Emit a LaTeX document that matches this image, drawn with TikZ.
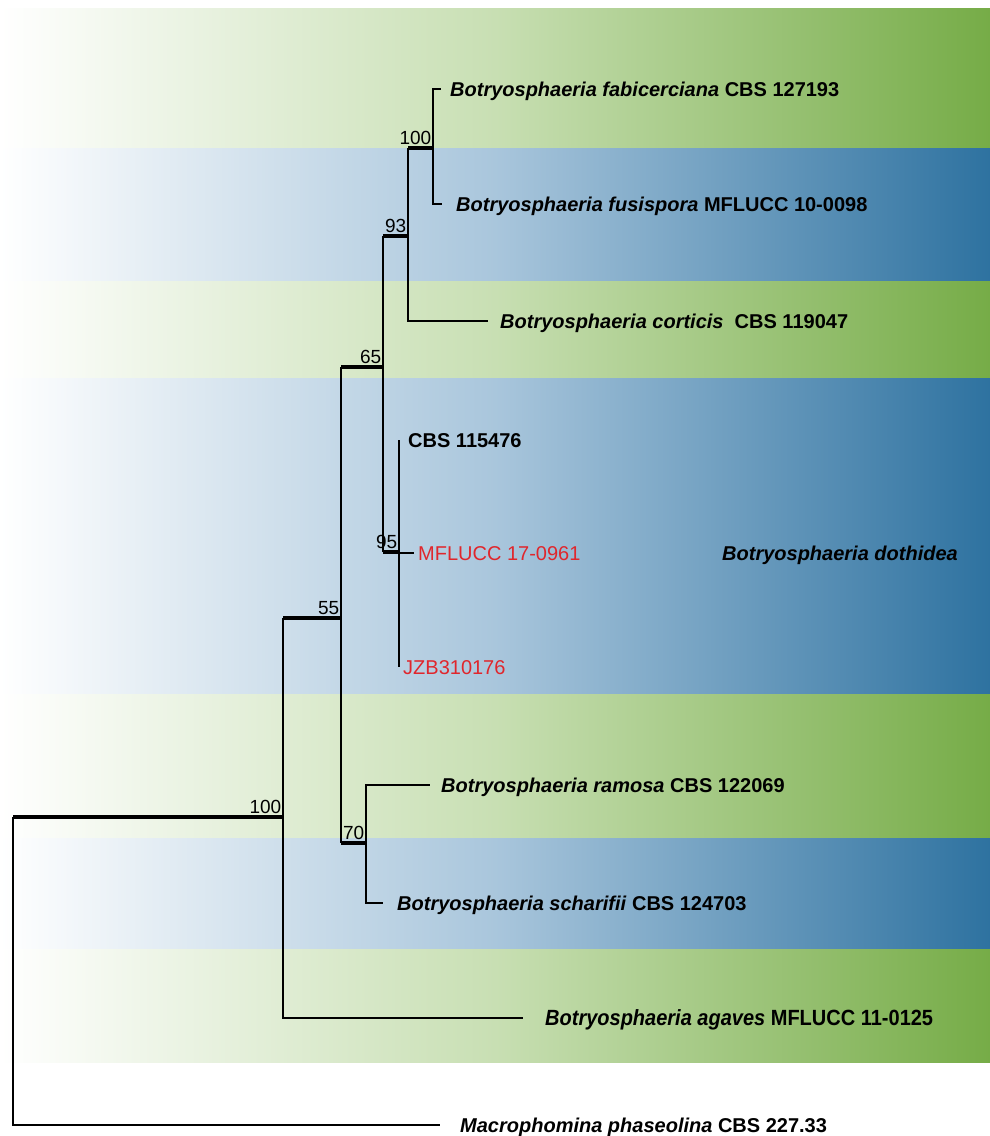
\documentclass[tikz,border=0pt]{standalone}
\usepackage{fontspec}
\setmainfont{Liberation Sans}
\usepackage{graphicx}
\usetikzlibrary{calc,positioning}

\definecolor{gmid}{HTML}{C8DFB3}
\definecolor{gdark}{HTML}{76AC47}
\definecolor{bmid}{HTML}{A9C6DC}
\definecolor{bdark}{HTML}{2E72A0}
\definecolor{tipred}{HTML}{E0262C}

\begin{document}
\begin{tikzpicture}[x=1pt, y=-1pt,
  gband/.style={left color=white, right color=gdark, middle color=gmid},
  bband/.style={left color=white, right color=bdark, middle color=bmid},
  br/.style={line width=1.4pt},
  thickbr/.style={line width=4.5pt},
  leaf/.style={anchor=west, inner xsep=#1, inner ysep=0pt, text height=14pt, text depth=0pt, font=\fontsize{20}{24}\selectfont\bfseries},
  leaf/.default=10pt,
  redleaf/.style={leaf=#1, font=\fontsize{20}{24}\selectfont, text=tipred},
  redleaf/.default=4pt,
  bs/.style={anchor=south east, inner xsep=1.5pt, inner ysep=3pt, font=\fontsize{19}{23}\selectfont}]
  \useasboundingbox (0,0) rectangle (990,1136);

  \foreach \a/\b in {8/148,280/378,693/838,948/1062}
    \fill[gband] (0,\a) rectangle (990,\b);
  \foreach \a/\b in {148/280,378/693,838/948}
    \fill[bband] (0,\a) rectangle (990,\b);

  \coordinate (r) at (13,817);
  \coordinate (n100) at (283,817);
  \coordinate (n55) at (341,618);
  \coordinate (n65) at (383,367);
  \coordinate (n93) at (408,236);
  \coordinate (n100b) at (433,148);
  \coordinate (n95) at (399,552);
  \coordinate (n70) at (366,843);

  \node[leaf=9pt] (fab) at (441,89) {\textit{Botryosphaeria fabicerciana} CBS 127193};
  \node[leaf=14pt] (fus) at (442,204) {\textit{Botryosphaeria fusispora} MFLUCC 10-0098};
  \node[leaf=12pt] (cor) at (488,321) {\textit{Botryosphaeria corticis}\ \ CBS 119047};
  \node[leaf=9pt] (cbs) at (399,440) {CBS 115476};
  \node[redleaf] (mfl) at (414,553) {MFLUCC 17-0961};
  \node[redleaf] (jzb) at (399,667) {JZB310176};
  \node[leaf=11pt] (ram) at (430,785) {\textit{Botryosphaeria ramosa} CBS 122069};
  \node[leaf=14pt] (sch) at (383,903) {\textit{Botryosphaeria scharifii} CBS 124703};
  \node[leaf=22pt, text height=15pt] (agv) at (523,1018) {\scalebox{1}[1.1]{\textit{Botryosphaeria agaves} MFLUCC 11-0125}};
  \node[leaf=20pt] (mph) at (440,1125) {\textit{Macrophomina phaseolina} CBS 227.33};
  \node[leaf=0pt] (clade) at (722,553) {\textit{Botryosphaeria dothidea}};

  \draw[thickbr] (r) -- (n100);
  \draw[br] (r) |- (mph.west);
  \draw[br] (n100) |- (agv.west);
  \draw[br] (n100) -- (n100 |- n55);
  \draw[thickbr] (n100 |- n55) -- (n55);
  \draw[br] (n55) -- (n55 |- n65);
  \draw[thickbr] (n55 |- n65) -- (n65);
  \draw[br] (n55) -- (n55 |- n70);
  \draw[thickbr] (n55 |- n70) -- (n70);
  \draw[br] (n70) |- (ram.west);
  \draw[br] (n70) |- (sch.west);
  \draw[br] (n65) -- (n65 |- n93);
  \draw[thickbr] (n65 |- n93) -- (n93);
  \draw[br] (n65) -- (n65 |- n95);
  \draw[thickbr] (n65 |- n95) -- (n95);
  \draw[br] (n95) |- (cbs.west);
  \draw[br] (n95) |- (mfl.west);
  \draw[br] (n95) |- (jzb.west);
  \draw[br] (n93) -- (n93 |- n100b);
  \draw[thickbr] (n93 |- n100b) -- (n100b);
  \draw[br] (n93) |- (cor.west);
  \draw[br] (n100b) |- (fab.west);
  \draw[br] (n100b) |- (fus.west);

  \node[bs] (b100) at (n100) {100};
  \node[bs] (b55) at (n55) {55};
  \node[bs] (b65) at (n65) {65};
  \node[bs] (b93) at (n93) {93};
  \node[bs] (b100b) at (n100b) {100};
  \node[bs] (b95) at (n95) {95};
  \node[bs] (b70) at (n70) {70};
\end{tikzpicture}
\end{document}
